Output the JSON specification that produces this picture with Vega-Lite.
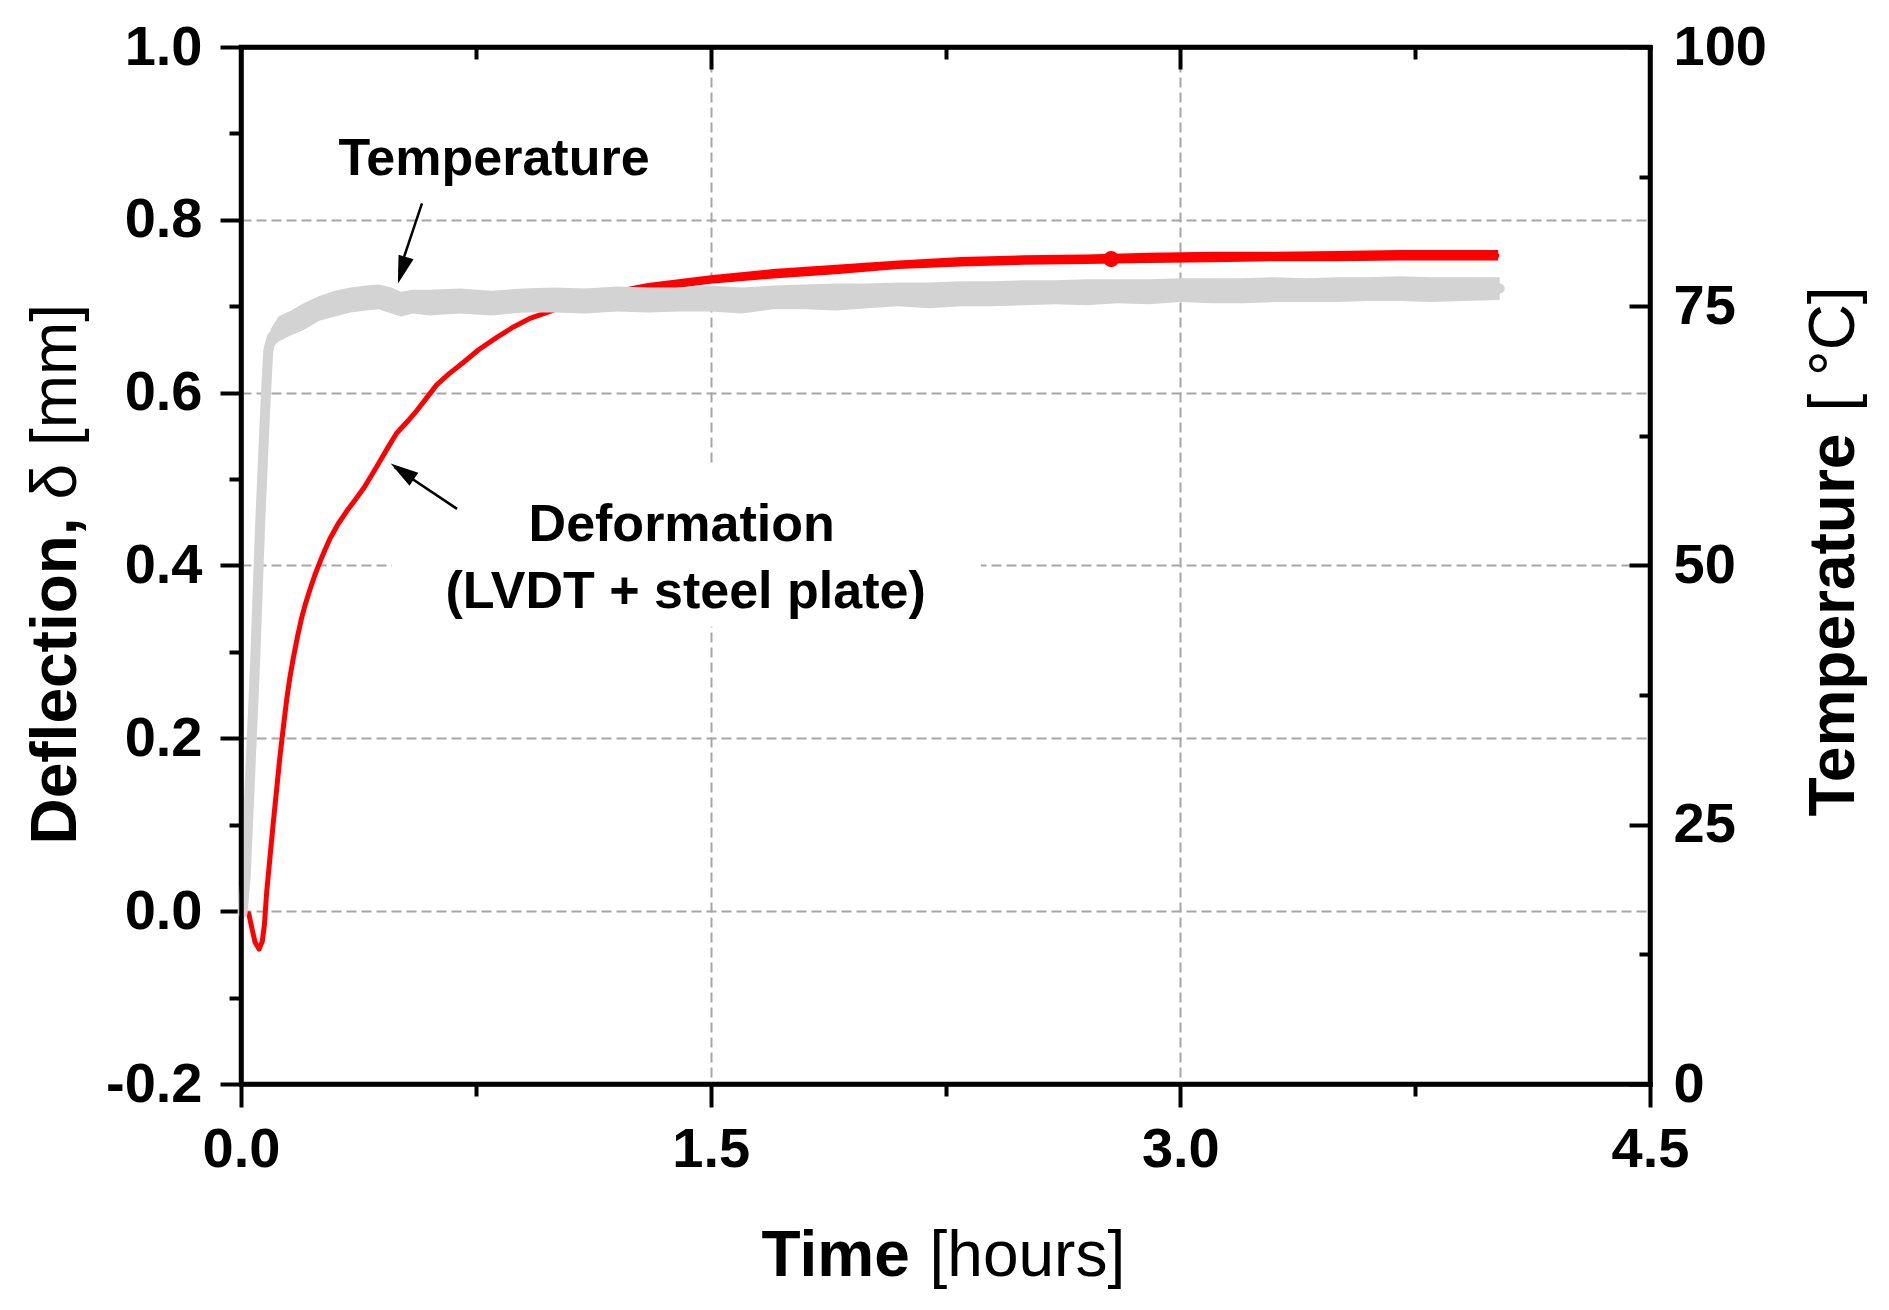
{
  "$schema": "https://vega.github.io/schema/vega-lite/v6.json",
  "width": 1409,
  "height": 1037,
  "autosize": {"type": "none"},
  "padding": {"left": 241, "top": 47, "right": 239, "bottom": 226},
  "background": "white",
  "config": {"view": {"stroke": "black", "strokeWidth": 4.5}},
  "datasets": {
    "box": [{"t1": 0.482, "t2": 2.363, "d1": 0.329, "d2": 0.515}],
    "red": [
      {"t": 0.025, "d": -0.003}, {"t": 0.035, "d": -0.02}, {"t": 0.045, "d": -0.036}, {"t": 0.058, "d": -0.044},
      {"t": 0.068, "d": -0.035}, {"t": 0.075, "d": -0.015}, {"t": 0.082, "d": 0.022}, {"t": 0.092, "d": 0.06},
      {"t": 0.103, "d": 0.102}, {"t": 0.115, "d": 0.145}, {"t": 0.125, "d": 0.181}, {"t": 0.136, "d": 0.215},
      {"t": 0.146, "d": 0.245}, {"t": 0.156, "d": 0.27}, {"t": 0.167, "d": 0.293}, {"t": 0.18, "d": 0.317},
      {"t": 0.194, "d": 0.34}, {"t": 0.207, "d": 0.357}, {"t": 0.22, "d": 0.372}, {"t": 0.236, "d": 0.389},
      {"t": 0.252, "d": 0.404}, {"t": 0.268, "d": 0.418}, {"t": 0.284, "d": 0.431}, {"t": 0.31, "d": 0.448},
      {"t": 0.338, "d": 0.463}, {"t": 0.365, "d": 0.476}, {"t": 0.391, "d": 0.489}, {"t": 0.418, "d": 0.505},
      {"t": 0.444, "d": 0.521}, {"t": 0.47, "d": 0.537}, {"t": 0.497, "d": 0.553}, {"t": 0.53, "d": 0.566},
      {"t": 0.561, "d": 0.579}, {"t": 0.593, "d": 0.594}, {"t": 0.625, "d": 0.609}, {"t": 0.665, "d": 0.622},
      {"t": 0.71, "d": 0.635}, {"t": 0.76, "d": 0.65}, {"t": 0.817, "d": 0.664}, {"t": 0.87, "d": 0.676},
      {"t": 0.923, "d": 0.686}, {"t": 0.987, "d": 0.694}, {"t": 1.05, "d": 0.703}, {"t": 1.12, "d": 0.71},
      {"t": 1.2, "d": 0.716}, {"t": 1.278, "d": 0.722}, {"t": 1.39, "d": 0.727}, {"t": 1.5, "d": 0.731},
      {"t": 1.65, "d": 0.736}, {"t": 1.75, "d": 0.74}, {"t": 1.883, "d": 0.743}, {"t": 2.0, "d": 0.746},
      {"t": 2.15, "d": 0.749}, {"t": 2.331, "d": 0.752}, {"t": 2.5, "d": 0.753}, {"t": 2.65, "d": 0.754},
      {"t": 2.779, "d": 0.7545}, {"t": 2.9, "d": 0.756}, {"t": 3.05, "d": 0.757}, {"t": 3.227, "d": 0.7576},
      {"t": 3.4, "d": 0.758}, {"t": 3.6, "d": 0.7585}, {"t": 3.8, "d": 0.7588}, {"t": 4.011, "d": 0.7588}
    ],
    "rband": [
      {"t": 1.1, "lo": 0.705, "hi": 0.713}, {"t": 1.3, "lo": 0.717, "hi": 0.727}, {"t": 1.5, "lo": 0.726, "hi": 0.736},
      {"t": 1.7, "lo": 0.732, "hi": 0.743}, {"t": 1.9, "lo": 0.737, "hi": 0.748}, {"t": 2.1, "lo": 0.743, "hi": 0.753},
      {"t": 2.3, "lo": 0.746, "hi": 0.757}, {"t": 2.5, "lo": 0.748, "hi": 0.759}, {"t": 2.7, "lo": 0.749, "hi": 0.76},
      {"t": 2.9, "lo": 0.75, "hi": 0.762}, {"t": 3.1, "lo": 0.751, "hi": 0.763}, {"t": 3.3, "lo": 0.752, "hi": 0.763},
      {"t": 3.5, "lo": 0.752, "hi": 0.764}, {"t": 3.7, "lo": 0.753, "hi": 0.765}, {"t": 3.9, "lo": 0.753, "hi": 0.765},
      {"t": 4.015, "lo": 0.753, "hi": 0.765}
    ],
    "dot": [{"t": 2.779, "d": 0.7545}],
    "gray": [
      {"t": 0.005, "T": 16.5}, {"t": 0.015, "T": 20}, {"t": 0.029, "T": 29.6}, {"t": 0.045, "T": 40.6},
      {"t": 0.061, "T": 53.9}, {"t": 0.077, "T": 64.9}, {"t": 0.087, "T": 70.7}, {"t": 0.098, "T": 72.0},
      {"t": 0.115, "T": 72.6}, {"t": 0.135, "T": 73.3}, {"t": 0.18, "T": 73.9}, {"t": 0.231, "T": 74.7},
      {"t": 0.28, "T": 75.0}, {"t": 0.338, "T": 75.5}, {"t": 0.39, "T": 75.7}, {"t": 0.444, "T": 75.9},
      {"t": 0.48, "T": 75.6}, {"t": 0.508, "T": 75.2}, {"t": 0.55, "T": 75.4}, {"t": 0.604, "T": 75.3},
      {"t": 0.7, "T": 75.4}, {"t": 0.817, "T": 75.3}, {"t": 0.9, "T": 75.5}, {"t": 1.03, "T": 75.6},
      {"t": 1.15, "T": 75.5}, {"t": 1.24, "T": 75.6}, {"t": 1.35, "T": 75.7}, {"t": 1.5, "T": 75.8},
      {"t": 1.65, "T": 75.6}, {"t": 1.8, "T": 75.9}, {"t": 1.95, "T": 76.0}, {"t": 2.107, "T": 76.1},
      {"t": 2.25, "T": 76.0}, {"t": 2.4, "T": 76.2}, {"t": 2.55, "T": 76.3}, {"t": 2.779, "T": 76.4},
      {"t": 2.95, "T": 76.4}, {"t": 3.1, "T": 76.5}, {"t": 3.25, "T": 76.5}, {"t": 3.45, "T": 76.6},
      {"t": 3.6, "T": 76.6}, {"t": 3.75, "T": 76.7}, {"t": 3.9, "T": 76.6}, {"t": 4.02, "T": 76.7}
    ],
    "gband": [
      {"t": 0.095, "lo": 70.9, "hi": 72.8}, {"t": 0.12, "lo": 71.6, "hi": 74.0}, {"t": 0.16, "lo": 72.2, "hi": 74.6},
      {"t": 0.2, "lo": 72.7, "hi": 75.3}, {"t": 0.25, "lo": 73.6, "hi": 76.0}, {"t": 0.3, "lo": 74.0, "hi": 76.5},
      {"t": 0.35, "lo": 74.4, "hi": 76.8}, {"t": 0.4, "lo": 74.6, "hi": 77.0}, {"t": 0.44, "lo": 74.7, "hi": 77.1},
      {"t": 0.48, "lo": 74.3, "hi": 76.8}, {"t": 0.51, "lo": 74.0, "hi": 76.4}, {"t": 0.55, "lo": 74.3, "hi": 76.6},
      {"t": 0.6, "lo": 74.1, "hi": 76.6}, {"t": 0.7, "lo": 74.3, "hi": 76.7}, {"t": 0.8, "lo": 74.1, "hi": 76.5},
      {"t": 0.9, "lo": 74.4, "hi": 76.7}, {"t": 1.0, "lo": 74.4, "hi": 76.8}, {"t": 1.1, "lo": 74.3, "hi": 76.7},
      {"t": 1.2, "lo": 74.5, "hi": 76.9}, {"t": 1.3, "lo": 74.4, "hi": 76.8}, {"t": 1.4, "lo": 74.5, "hi": 76.8},
      {"t": 1.5, "lo": 74.5, "hi": 77.0}, {"t": 1.6, "lo": 74.3, "hi": 76.8}, {"t": 1.7, "lo": 74.7, "hi": 77.0},
      {"t": 1.8, "lo": 74.7, "hi": 77.1}, {"t": 1.9, "lo": 74.6, "hi": 77.2}, {"t": 2.0, "lo": 74.8, "hi": 77.2},
      {"t": 2.1, "lo": 75.0, "hi": 77.3}, {"t": 2.2, "lo": 74.8, "hi": 77.3}, {"t": 2.3, "lo": 75.0, "hi": 77.4},
      {"t": 2.4, "lo": 75.0, "hi": 77.4}, {"t": 2.5, "lo": 75.1, "hi": 77.5}, {"t": 2.6, "lo": 75.2, "hi": 77.5},
      {"t": 2.7, "lo": 75.1, "hi": 77.6}, {"t": 2.8, "lo": 75.3, "hi": 77.6}, {"t": 2.9, "lo": 75.2, "hi": 77.6},
      {"t": 3.0, "lo": 75.4, "hi": 77.7}, {"t": 3.1, "lo": 75.3, "hi": 77.7}, {"t": 3.2, "lo": 75.3, "hi": 77.7},
      {"t": 3.3, "lo": 75.4, "hi": 77.8}, {"t": 3.4, "lo": 75.4, "hi": 77.7}, {"t": 3.5, "lo": 75.4, "hi": 77.8},
      {"t": 3.6, "lo": 75.5, "hi": 77.8}, {"t": 3.7, "lo": 75.5, "hi": 77.9}, {"t": 3.8, "lo": 75.4, "hi": 77.8},
      {"t": 3.9, "lo": 75.5, "hi": 77.8}, {"t": 4.02, "lo": 75.6, "hi": 77.8}
    ],
    "arrows": [
      {"t": 0.578, "d": 0.819, "t2": 0.505, "d2": 0.74},
      {"t": 0.69, "d": 0.4655, "t2": 0.49, "d2": 0.514}
    ],
    "heads": [
      {"t": 0.501, "d": 0.726, "ang": 17},
      {"t": 0.478, "d": 0.518, "ang": 124}
    ],
    "labels": [
      {"t": 0.808, "d": 0.8516, "txt": "Temperature"},
      {"t": 1.4075, "d": 0.4285, "txt": "Deformation"},
      {"t": 1.42, "d": 0.351, "txt": "(LVDT + steel plate)"}
    ]
  },
  "resolve": {"scale": {"y": "independent"}, "axis": {"x": "independent", "y": "independent"}},
  "layer": [
    {
      "data": {"name": "box"},
      "mark": {"type": "rect", "fill": "white", "strokeWidth": 0},
      "encoding": {
        "x": {"field": "t1", "type": "quantitative", "scale": {"domain": [0, 4.5], "nice": false, "zero": false},
          "axis": {"orient": "bottom", "values": [0, 1.5, 3, 4.5], "labelExpr": "format(datum.value,'.1f')",
            "labelFont": "Liberation Sans", "labelFontSize": 56, "labelFontWeight": "bold", "labelColor": "black",
            "labelPadding": 15, "labelFlush": false, "labelOverlap": false,
            "ticks": true, "tickSize": 23, "tickWidth": 4, "tickColor": "black", "domain": false,
            "grid": true, "gridColor": "#a6a6a6", "gridDash": [10, 5], "gridWidth": 2,
            "title": "Time", "titleFont": "Liberation Sans", "titleFontSize": 64, "titleFontWeight": "bold", "titleColor": "black",
            "titleAngle": 0, "titleAlign": "left", "titleBaseline": "alphabetic", "titleX": 520, "titleY": 191}},
        "x2": {"field": "t2"},
        "y": {"field": "d1", "type": "quantitative", "scale": {"domain": [-0.2, 1.0], "nice": false, "zero": false},
          "axis": {"orient": "left", "values": [-0.2, 0, 0.2, 0.4, 0.6, 0.8, 1.0], "labelExpr": "replace(format(datum.value,'.1f'),'−','-')",
            "labelFont": "Liberation Sans", "labelFontSize": 56, "labelFontWeight": "bold", "labelColor": "black",
            "labelPadding": 18, "labelFlush": false, "labelOverlap": false,
            "ticks": true, "tickSize": 21, "tickWidth": 4, "tickColor": "black", "domain": false,
            "grid": true, "gridColor": "#a6a6a6", "gridDash": [10, 5], "gridWidth": 2,
            "title": "Deflection,", "titleFont": "Liberation Sans", "titleFontSize": 64, "titleFontWeight": "bold", "titleColor": "black",
            "titleAngle": 270, "titleAlign": "left", "titleBaseline": "alphabetic", "titleX": -166, "titleY": 797}},
        "y2": {"field": "d2"}
      }
    },
    {
      "data": {"name": "rband"},
      "mark": {"type": "area", "color": "#ff0000", "opacity": 1},
      "encoding": {
        "x": {"field": "t", "type": "quantitative", "scale": {"domain": [0, 4.5], "nice": false, "zero": false},
          "axis": {"orient": "bottom", "values": [0.75, 2.25, 3.75], "labels": false, "ticks": true, "tickSize": 12, "tickWidth": 4, "tickColor": "black",
            "domain": false, "grid": false,
            "title": "[hours]", "titleFont": "Liberation Sans", "titleFontSize": 64, "titleFontWeight": "normal", "titleColor": "black",
            "titleAngle": 0, "titleAlign": "left", "titleBaseline": "alphabetic", "titleX": 688, "titleY": 191}},
        "y": {"field": "lo", "type": "quantitative", "scale": {"domain": [-0.2, 1.0], "nice": false, "zero": false},
          "axis": {"orient": "left", "values": [-0.1, 0.1, 0.3, 0.5, 0.7, 0.9], "labels": false, "ticks": true, "tickSize": 12, "tickWidth": 4, "tickColor": "black",
            "domain": false, "grid": false,
            "title": "δ [mm]", "titleFont": "Liberation Sans", "titleFontSize": 64, "titleFontWeight": "normal", "titleColor": "black",
            "titleAngle": 270, "titleAlign": "left", "titleBaseline": "alphabetic", "titleX": -166, "titleY": 452}},
        "y2": {"field": "hi"}
      }
    },
    {
      "data": {"name": "red"},
      "mark": {"type": "line", "color": "#ff0000", "strokeWidth": 5, "strokeJoin": "round", "strokeCap": "round"},
      "encoding": {
        "x": {"field": "t", "type": "quantitative", "scale": {"domain": [0, 4.5], "nice": false, "zero": false},
          "axis": {"orient": "top", "offset": -22, "values": [1.5, 3.0], "labels": false, "ticks": true, "tickSize": 22, "tickWidth": 4, "tickColor": "black",
            "domain": false, "grid": false, "title": null}},
        "y": {"field": "d", "type": "quantitative", "scale": {"domain": [-0.2, 1.0], "nice": false, "zero": false},
          "axis": {"orient": "right", "offset": -21, "values": [-0.2, 0.1, 0.4, 0.7, 1.0], "labels": false, "ticks": true, "tickSize": 21, "tickWidth": 4, "tickColor": "black",
            "domain": false, "grid": false,
            "title": "[ °C]", "titleFont": "Liberation Sans", "titleFontSize": 64, "titleFontWeight": "normal", "titleColor": "black",
            "titleAngle": 270, "titleAlign": "left", "titleBaseline": "alphabetic", "titleX": 224, "titleY": 364}}
      }
    },
    {
      "data": {"name": "dot"},
      "mark": {"type": "point", "shape": "circle", "filled": true, "color": "#ff0000", "opacity": 1, "size": 260},
      "encoding": {
        "x": {"field": "t", "type": "quantitative", "scale": {"domain": [0, 4.5], "nice": false, "zero": false},
          "axis": {"orient": "top", "offset": -12, "values": [0.75, 2.25, 3.75], "labels": false, "ticks": true, "tickSize": 12, "tickWidth": 4, "tickColor": "black",
            "domain": false, "grid": false, "title": null}},
        "y": {"field": "d", "type": "quantitative", "scale": {"domain": [-0.2, 1.0], "nice": false, "zero": false},
          "axis": {"orient": "right", "offset": -11, "values": [-0.05, 0.25, 0.55, 0.85], "labels": false, "ticks": true, "tickSize": 11, "tickWidth": 4, "tickColor": "black",
            "domain": false, "grid": false, "title": null}}
      }
    },
    {
      "data": {"name": "gband"},
      "mark": {"type": "area", "color": "#d3d3d3", "opacity": 1},
      "encoding": {
        "x": {"field": "t", "type": "quantitative", "scale": {"domain": [0, 4.5], "nice": false, "zero": false}, "axis": null},
        "y": {"field": "lo", "type": "quantitative", "scale": {"domain": [0, 100], "nice": false, "zero": false},
          "axis": {"orient": "right", "values": [0, 25, 50, 75, 100], "format": "d",
            "labelFont": "Liberation Sans", "labelFontSize": 56, "labelFontWeight": "bold", "labelColor": "black",
            "labelPadding": 23, "labelFlush": false, "labelOverlap": false, "labelAlign": "left",
            "ticks": false, "tickSize": 0, "domain": false, "grid": false,
            "title": "Temperature", "titleFont": "Liberation Sans", "titleFontSize": 64, "titleFontWeight": "bold", "titleColor": "black",
            "titleAngle": 270, "titleAlign": "left", "titleBaseline": "alphabetic", "titleX": 203, "titleY": 769}},
        "y2": {"field": "hi"}
      }
    },
    {
      "data": {"name": "gray"},
      "mark": {"type": "line", "color": "#d3d3d3", "strokeWidth": 10, "strokeJoin": "round", "strokeCap": "round"},
      "encoding": {
        "x": {"field": "t", "type": "quantitative", "scale": {"domain": [0, 4.5], "nice": false, "zero": false},
          "axis": {"orient": "top", "labels": false, "ticks": false, "grid": false, "title": null,
            "domain": true, "domainColor": "black", "domainWidth": 4.5, "domainCap": "square", "zindex": 1}},
        "y": {"field": "T", "type": "quantitative", "scale": {"domain": [0, 100], "nice": false, "zero": false},
          "axis": {"orient": "right", "labels": false, "ticks": false, "grid": false, "title": null,
            "domain": true, "domainColor": "black", "domainWidth": 4.5, "domainCap": "square", "zindex": 1}}
      }
    },
    {
      "data": {"name": "arrows"},
      "mark": {"type": "rule", "color": "black", "strokeWidth": 2.5},
      "encoding": {
        "x": {"field": "t", "type": "quantitative", "scale": {"domain": [0, 4.5], "nice": false, "zero": false},
          "axis": {"orient": "bottom", "labels": false, "ticks": false, "grid": false, "title": null,
            "domain": true, "domainColor": "black", "domainWidth": 4.5, "domainCap": "square", "zindex": 1}},
        "x2": {"field": "t2"},
        "y": {"field": "d", "type": "quantitative", "scale": {"domain": [-0.2, 1.0], "nice": false, "zero": false},
          "axis": {"orient": "left", "labels": false, "ticks": false, "grid": false, "title": null,
            "domain": true, "domainColor": "black", "domainWidth": 4.5, "domainCap": "square", "zindex": 1}},
        "y2": {"field": "d2"}
      }
    },
    {
      "data": {"name": "heads"},
      "mark": {"type": "point", "shape": "M0,0L-0.28,-1L0.28,-1Z", "filled": true, "color": "black", "opacity": 1, "size": 3136, "strokeWidth": 0},
      "encoding": {
        "x": {"field": "t", "type": "quantitative", "scale": {"domain": [0, 4.5], "nice": false, "zero": false}, "axis": null},
        "y": {"field": "d", "type": "quantitative", "scale": {"domain": [-0.2, 1.0], "nice": false, "zero": false}, "axis": null},
        "angle": {"field": "ang", "type": "quantitative", "scale": null}
      }
    },
    {
      "data": {"name": "labels"},
      "mark": {"type": "text", "font": "Liberation Sans", "fontSize": 52, "fontWeight": "bold", "color": "black", "align": "center", "baseline": "alphabetic"},
      "encoding": {
        "x": {"field": "t", "type": "quantitative", "scale": {"domain": [0, 4.5], "nice": false, "zero": false}, "axis": null},
        "y": {"field": "d", "type": "quantitative", "scale": {"domain": [-0.2, 1.0], "nice": false, "zero": false}, "axis": null},
        "text": {"field": "txt"}
      }
    }
  ]
}
